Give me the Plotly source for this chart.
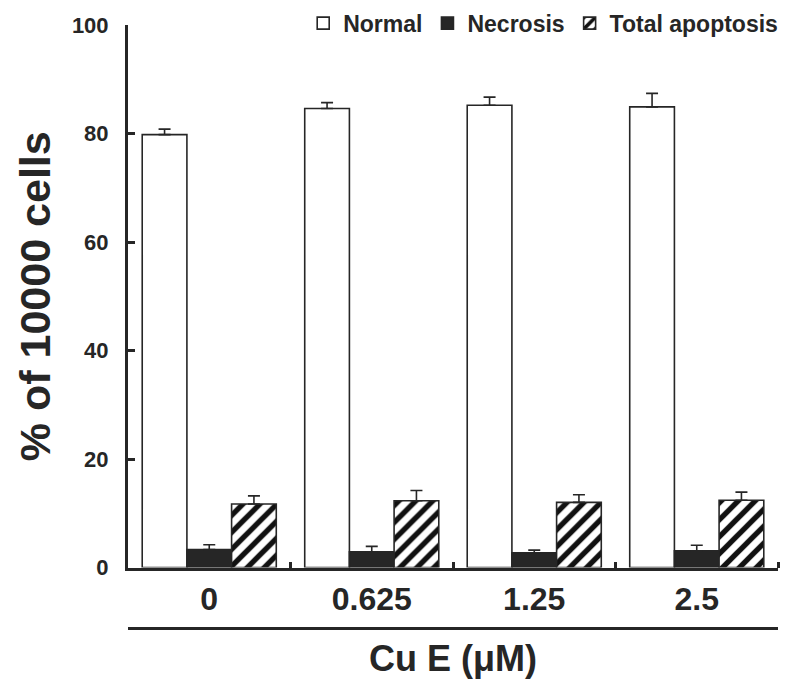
import plotly.graph_objects as go

categories = ["0", "0.625", "1.25", "2.5"]
normal = [79.8, 84.6, 85.2, 84.9]
normal_err = [1.0, 1.1, 1.5, 2.5]
necrosis = [3.3, 2.9, 2.7, 3.1]
necrosis_err = [0.9, 1.0, 0.5, 1.0]
apoptosis = [11.7, 12.3, 12.0, 12.4]
apoptosis_err = [1.5, 1.9, 1.4, 1.5]
y_ticks = [0, 20, 40, 60, 80, 100]

INK = "#262626"
FONT = "Liberation Sans, Arial, sans-serif"
xpos = list(range(len(categories)))

def err(vals):
    return dict(type="data", array=vals, arrayminus=[0] * len(vals), symmetric=False,
                color=INK, thickness=1.6, width=6)

fig = go.Figure()
fig.add_bar(name="Normal", x=xpos, y=normal, error_y=err(normal_err),
            marker=dict(color="white", line=dict(color=INK, width=1.6)))
fig.add_bar(name="Necrosis", x=xpos, y=necrosis, error_y=err(necrosis_err),
            marker=dict(color=INK, line=dict(color=INK, width=1.6)))
fig.add_bar(name="Total apoptosis", x=xpos, y=apoptosis, error_y=err(apoptosis_err),
            marker=dict(color="white", line=dict(color=INK, width=1.6),
                        pattern=dict(shape="/", fgcolor="#111111", bgcolor="white",
                                     fgopacity=1, size=12, solidity=0.45)))

# invisible trace to bind the lower axis line
fig.add_scatter(x=[xpos[0]], y=[0], xaxis="x2", yaxis="y", mode="markers",
                marker=dict(opacity=0), showlegend=False, hoverinfo="skip")

fig.update_layout(
    width=785, height=681,
    margin=dict(l=128, r=2, t=20, b=53),
    paper_bgcolor="white", plot_bgcolor="white",
    barmode="group", bargap=0.175, bargroupgap=0,
    font=dict(family=FONT, color=INK, weight="bold"),
    showlegend=True,
    legend=dict(orientation="h", x=1.008, xanchor="right", y=1.003, yanchor="middle",
                font=dict(size=23, family=FONT, color=INK, weight="bold"),
                bgcolor="rgba(0,0,0,0)", itemwidth=30, tracegroupgap=0,
                traceorder="normal"),
    xaxis=dict(range=[-0.5, 3.5], tickvals=xpos, ticktext=categories,
               ticks="", showline=True, linecolor=INK, linewidth=3,
               tickfont=dict(size=32, family=FONT, color=INK, weight="bold"),
               ticklabelstandoff=1, showgrid=False, zeroline=False,
               anchor="y",
               minor=dict(tickvals=[0.5, 1.5, 2.5, 3.5], ticks="inside",
                          ticklen=6, tickwidth=3, tickcolor=INK, showgrid=False)),
    xaxis2=dict(range=[-0.5, 3.5], overlaying="x", anchor="free", position=0,
                side="bottom", showline=True, linecolor=INK, linewidth=3,
                showticklabels=False, ticks="", showgrid=False, zeroline=False,
                title=dict(text="Cu E (μM)", standoff=16,
                           font=dict(size=36, family=FONT, color=INK, weight="bold"))),
    yaxis=dict(range=[0, 100], domain=[0.1003, 1], tickvals=y_ticks,
               ticks="inside", ticklen=7, tickwidth=3, tickcolor=INK,
               showline=True, linecolor=INK, linewidth=3,
               tickfont=dict(size=22, family=FONT, color=INK, weight="bold"),
               ticklabelstandoff=12,
               showgrid=False, zeroline=False,
               title=dict(text="% of 10000 cells", standoff=8,
                          font=dict(size=43, family=FONT, color=INK, weight="bold"))),
)

fig.write_html("out.html")
